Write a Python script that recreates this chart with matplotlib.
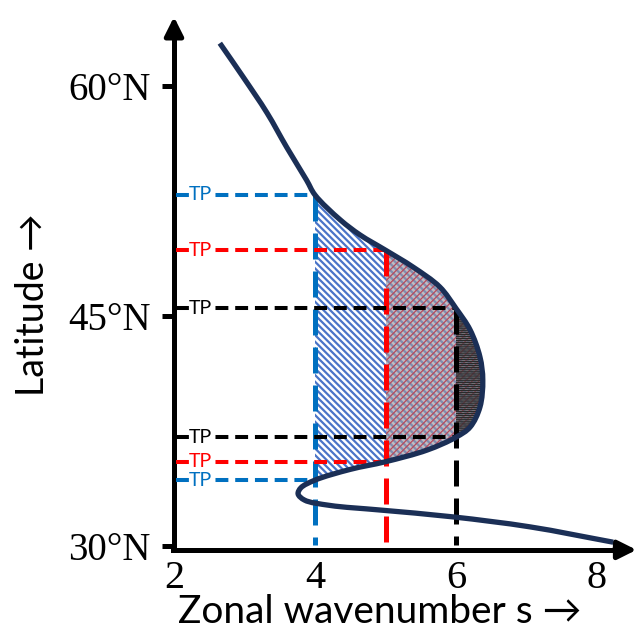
import numpy as np
import matplotlib
matplotlib.use('Agg')
import matplotlib.pyplot as plt
from matplotlib.path import Path
from matplotlib.patches import PathPatch, Rectangle

# curve: zonal wavenumber s vs latitude
curve_s = [2.65, 2.98, 3.32, 3.60, 3.88, 4.0, 4.36, 4.64, 5.0, 5.39, 5.77, 6.0,
           6.20, 6.34, 6.38, 6.34, 6.20, 6.0, 5.59, 5.0, 4.50, 4.0,
           3.80, 3.76, 3.85, 4.21, 4.92, 5.96, 7.05, 8.23]
curve_lat = [62.8, 60.6, 58.25, 56.0, 53.87, 52.9, 51.27, 50.29, 49.3, 48.2, 46.9, 45.5,
             44.1, 42.33, 40.83, 39.07, 37.76, 37.1, 36.26, 35.5, 35.0, 34.3,
             33.8, 33.4, 33.0, 32.65, 32.35, 31.9, 31.25, 30.25]

# turning points for s = 4, 5, 6
tp_s = [4, 5, 6]
tp_top = [52.9, 49.3, 45.5]
tp_bot = [34.3, 35.5, 37.1]
tp_colors = ['#0070c0', '#ff0000', '#000000']

yticks = [30, 45, 60]
ytick_labels = ['30°N', '45°N', '60°N']
xticks = [2, 4, 6, 8]

pts = np.column_stack([curve_s, curve_lat])
n = len(pts)
pix = np.array([70.5, 15.33])  # pixels per unit, for the spline knots


def smooth_verts(i0, i1):
    # centripetal catmull-rom through the read points, as cubic beziers
    verts = [pts[i0]]
    for i in range(i0, i1):
        p1, p2 = pts[i], pts[i + 1]
        p0 = pts[i - 1] if i > 0 else 2 * p1 - p2
        p3 = pts[i + 2] if i + 2 < n else 2 * p2 - p1
        d1 = np.linalg.norm((p1 - p0) * pix) ** 0.5
        d2 = np.linalg.norm((p2 - p1) * pix) ** 0.5
        d3 = np.linalg.norm((p3 - p2) * pix) ** 0.5
        b1 = (d1**2 * p2 - d2**2 * p0 + (2*d1**2 + 3*d1*d2 + d2**2) * p1) / (3*d1*(d1 + d2))
        b2 = (d3**2 * p1 - d2**2 * p3 + (2*d3**2 + 3*d3*d2 + d2**2) * p2) / (3*d3*(d3 + d2))
        verts += [b1, b2, p2]
    return verts


def idx(s, lat):
    return int(np.where((pts[:, 0] == s) & (pts[:, 1] == lat))[0][0])


fig = plt.figure(figsize=(6.38, 6.37), dpi=100)
ax = fig.add_axes([166.95/638, 83.3/637, 472.35/638, 547.3/637])
ax.set_xlim(1.9, 8.6)
ax.set_ylim(29.5, 65.2)
ax.patch.set_alpha(0)

# region left of the curve between the outer turning points
i0, i1 = idx(tp_s[0], tp_top[0]), idx(tp_s[0], tp_bot[0])
v = smooth_verts(i0, i1)
clip_verts = [(2, tp_top[0])] + v + [(2, tp_bot[0]), (2, tp_top[0])]
clip_codes = [Path.MOVETO, Path.LINETO] + [Path.CURVE4] * (len(v) - 1) + [Path.LINETO, Path.CLOSEPOLY]
clip_patch = PathPatch(Path(clip_verts, clip_codes), transform=ax.transData,
                       facecolor='none', edgecolor='none')
ax.add_patch(clip_patch)

# hatched regions between each s and the curve
styles = [dict(facecolor='white', edgecolor='#4a74c8', hatch='\\\\\\\\\\', hw=1.6),
          dict(facecolor=(0.62, 0.6, 0.64, 0.65), edgecolor='#b84a5c', hatch='/////', hw=0.9),
          dict(facecolor=(0.3, 0.28, 0.3, 0.35), edgecolor='#2a2a2a', hatch='--------', hw=1.0)]
for k, (s, top, bot) in enumerate(zip(tp_s, tp_top, tp_bot)):
    st = styles[k]
    with plt.rc_context({'hatch.linewidth': st['hw']}):
        r = Rectangle((s, bot), 8 - s, top - bot, facecolor=st['facecolor'],
                      edgecolor=st['edgecolor'], hatch=st['hatch'], linewidth=0, zorder=1 + k)
        ax.add_patch(r)
        r.set_clip_path(clip_patch)

# dashed turning point lines
for s, top, bot, c in zip(tp_s, tp_top, tp_bot, tp_colors):
    for lat in (top, bot):
        ax.plot([2.03, s], [lat, lat], color=c, lw=2.9, dashes=(3.2, 1.7), zorder=4)
        ax.text(2.38, lat, 'TP', color=c, fontsize=14, ha='center', va='center',
                family=['Lato', 'DejaVu Sans'], zorder=5,
                bbox=dict(facecolor='white', edgecolor='none', pad=0.4))
    ax.plot([s, s], [top, 30.1], color=c, lw=3.6, dashes=(5.2, 2.4), zorder=4)

v = smooth_verts(0, n - 1)
ax.add_patch(PathPatch(Path(v, [Path.MOVETO] + [Path.CURVE4] * (len(v) - 1)),
                       facecolor='none', edgecolor='#1b2f56', lw=3.8,
                       capstyle='butt', joinstyle='round', zorder=6))

# axes with arrows
for sp in ['top', 'right']:
    ax.spines[sp].set_visible(False)
ax.spines['left'].set_position(('data', 2))
ax.spines['bottom'].set_position(('data', 29.75))
ax.spines['left'].set_bounds(29.75, 64.0)
ax.spines['bottom'].set_bounds(1.98, 8.3)
for sp in ['left', 'bottom']:
    ax.spines[sp].set_linewidth(3.6)
ax.annotate('', xy=(2, 64.7), xytext=(2, 63.5),
            arrowprops=dict(arrowstyle='-|>', color='black', lw=3.6, mutation_scale=28),
            annotation_clip=False)
ax.annotate('', xy=(8.6, 29.75), xytext=(8.2, 29.75),
            arrowprops=dict(arrowstyle='-|>', color='black', lw=3.6, mutation_scale=28),
            annotation_clip=False)

ax.set_yticks(yticks)
ax.set_yticklabels(ytick_labels, family='Liberation Serif', fontsize=28)
ax.set_xticks(xticks)
ax.set_xticklabels([str(v) for v in xticks], family='Liberation Serif', fontsize=29)
ax.tick_params(axis='y', direction='out', length=9, width=3.6, pad=8)
ax.tick_params(axis='x', length=0, pad=7)

fig.text(33/638, 1 - 305/637, 'Latitude →', rotation=90, ha='center', va='center',
         fontsize=27, family=['Lato', 'DejaVu Sans'])
fig.text(380/638, 1 - 612/637, 'Zonal wavenumber s →', ha='center', va='center',
         fontsize=28, family=['Lato', 'DejaVu Sans'])

fig.savefig('out.png', dpi=100)
